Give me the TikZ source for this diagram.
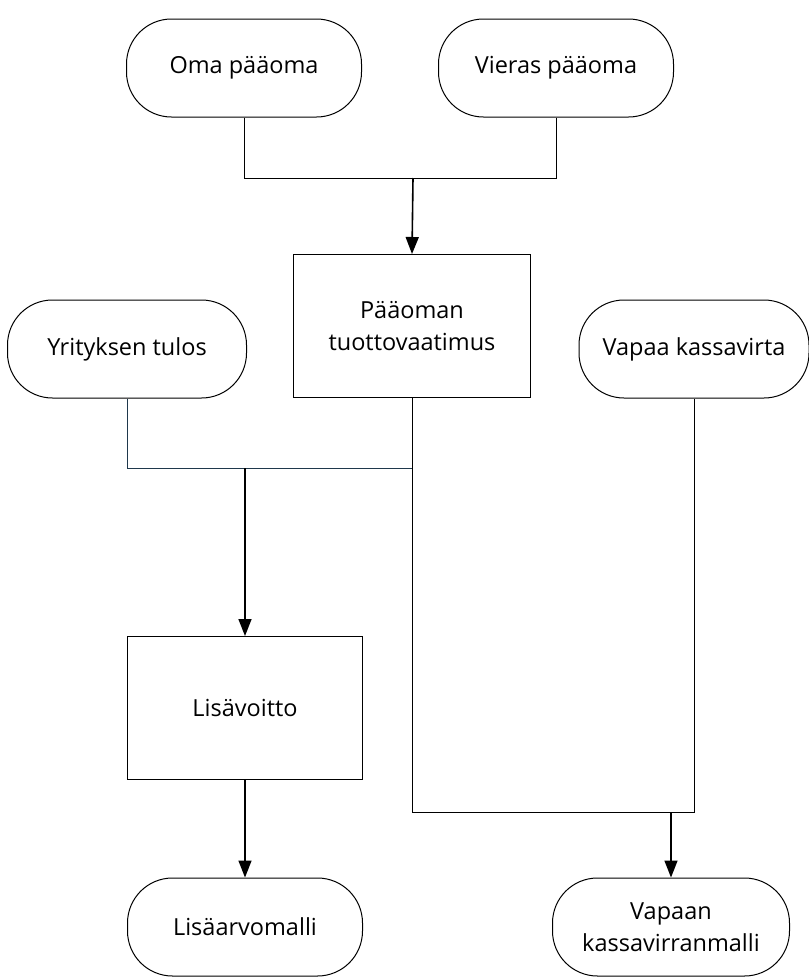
\documentclass[tikz,border=0pt]{standalone}
\usepackage{fontspec}
\setmainfont{Open Sans}
\usetikzlibrary{arrows.meta}

\tikzset{
  terminal/.style={draw, line width=1pt, rounded corners=45pt, minimum width=235pt,
    minimum height=98pt, inner xsep=4pt, align=center, font=\fontsize{23.5}{32}\selectfont},
  process/.style={draw, line width=1pt, minimum width=237pt, minimum height=143pt,
    align=center, font=\fontsize{23.5}{32}\selectfont},
  link/.style={line width=1pt},
  flow/.style={line width=1.6pt, -{Triangle[width=13pt,length=17pt]}}
}

\begin{document}
\begin{tikzpicture}[x=1pt, y=-1pt]
    \useasboundingbox (0,0) rectangle (809,978);

    % Sources of capital
    \node[terminal] (oma) at (244,68) {Oma pääoma};
    \node[terminal] (vieras) at (556,68) {Vieras pääoma};

    % Cost of capital
    \node[process] (tuotto) at (412,326) {Pääoman\\tuottovaatimus};

    % Inputs
    \node[terminal, minimum width=239pt] (tulos) at (127,349) {Yrityksen tulos};
    \node[terminal, minimum width=230pt, inner xsep=0pt] (kassa) at (694,349) {Vapaa kassavirta};

    % Residual income
    \node[process, minimum width=235pt] (lisa) at (245,708) {Lisävoitto};

    % Models
    \node[terminal] (malli1) at (245,927) {Lisäarvomalli};
    \node[terminal, minimum width=237pt] (malli2) at (671,927) {Vapaan\\kassavirranmalli};

    % Junction points
    \coordinate (j1) at (413,178);
    \coordinate (j2) at (245,468);
    \coordinate (j3) at (671,812);

    % Capital to cost of capital
    \draw[link] (oma.south) |- (j1);
    \draw[link] (vieras.south) |- (j1);
    \draw[flow] (j1) -- (tuotto.north);

    % Result and cost of capital to residual income
    \draw[link, color={rgb,255:red,31;green,56;blue,76}] (tulos.south) |- (tuotto.south |- j2);
    \draw[flow] (j2) -- (lisa.north);
    \draw[flow] (lisa.south) -- (malli1.north);

    % Cost of capital and free cash flow to cash flow model
    \draw[link] (tuotto.south) |- (kassa.south |- j3) -- (kassa.south);
    \draw[flow] (j3) -- (malli2.north);
\end{tikzpicture}
\end{document}
